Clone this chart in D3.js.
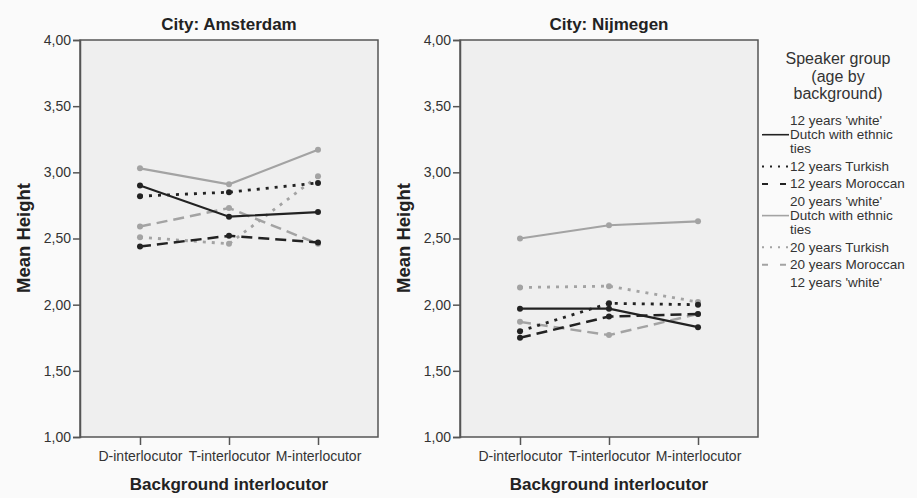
<!DOCTYPE html>
<html><head><meta charset="utf-8">
<script src="https://cdn.jsdelivr.net/npm/d3@7"></script>
<style>body{margin:0;background:#fafafa;}svg{display:block;font-family:"Liberation Sans",Arial,sans-serif;}</style>
</head><body><svg id="c" width="917" height="498"></svg>
<script>
const categories = ["D-interlocutor","T-interlocutor","M-interlocutor"];
const yTicks = [1.0,1.5,2.0,2.5,3.0,3.5,4.0];
const seriesNames = ["12 years 'white' Dutch with ethnic ties","12 years Turkish","12 years Moroccan","20 years 'white' Dutch with ethnic ties","20 years  Turkish","20 years Moroccan"];
const amsterdam12White = [2.90,2.665,2.70];
const amsterdam12Turkish = [2.82,2.85,2.92];
const amsterdam12Moroccan = [2.44,2.52,2.47];
const amsterdam20White = [3.03,2.91,3.17];
const amsterdam20Turkish = [2.51,2.46,2.97];
const amsterdam20Moroccan = [2.59,2.73,2.46];
const nijmegen12White = [1.97,1.97,1.83];
const nijmegen12Turkish = [1.80,2.01,2.00];
const nijmegen12Moroccan = [1.75,1.91,1.93];
const nijmegen20White = [2.50,2.60,2.63];
const nijmegen20Turkish = [2.13,2.14,2.02];
const nijmegen20Moroccan = [1.87,1.77,1.93];
const legendLines = [["12 years 'white'","Dutch with ethnic","ties"],["12 years Turkish"],["12 years Moroccan"],["20 years 'white'","Dutch with ethnic","ties"],["20 years  Turkish"],["20 years Moroccan"],["12 years 'white'"]];

const styles = [
  {color:"#222",dash:null,w:2.2},
  {color:"#222",dash:"3,6",w:2.8},
  {color:"#222",dash:"11,6",w:2.5},
  {color:"#a3a3a3",dash:null,w:2.2},
  {color:"#a3a3a3",dash:"3,6",w:2.8},
  {color:"#a3a3a3",dash:"11,6",w:2.5}
];
const panels = [
  {title:"City: Amsterdam", x0:80, x1:378, data:[amsterdam12White,amsterdam12Turkish,amsterdam12Moroccan,amsterdam20White,amsterdam20Turkish,amsterdam20Moroccan]},
  {title:"City: Nijmegen", x0:460, x1:758, data:[nijmegen12White,nijmegen12Turkish,nijmegen12Moroccan,nijmegen20White,nijmegen20Turkish,nijmegen20Moroccan]}
];
const svg = d3.select("#c");
const y = d3.scaleLinear().domain([1,4]).range([437,40]);
const drawOrder = [3,5,4,0,2,1];
panels.forEach(p=>{
  const x = d3.scalePoint().domain(categories).range([p.x0,p.x1]).padding(0.674);
  const g = svg.append("g");
  g.append("rect").attr("x",p.x0).attr("y",40).attr("width",p.x1-p.x0).attr("height",397).attr("fill","#efefef").attr("stroke","#555").attr("stroke-width",1.5);
  const ya = g.append("g").attr("transform",`translate(${p.x0},0)`).call(d3.axisLeft(y).tickValues(yTicks).tickSize(7).tickPadding(2).tickFormat(d=>d3.format(".2f")(d).replace(".",",")));
  ya.select(".domain").attr("stroke","#555").attr("stroke-width",1.5);
  ya.selectAll(".tick line").attr("stroke","#555").attr("stroke-width",1.5);
  ya.selectAll("text").attr("font-size",14).attr("fill","#333");
  const xa = g.append("g").attr("transform",`translate(0,437)`).call(d3.axisBottom(x).tickSize(8).tickPadding(6));
  xa.select(".domain").remove();
  xa.selectAll(".tick line").attr("stroke","#555").attr("stroke-width",1.5);
  xa.selectAll("text").attr("font-size",14).attr("fill","#333");
  g.append("text").attr("x",(p.x0+p.x1)/2).attr("y",30).attr("text-anchor","middle").attr("font-weight","bold").attr("font-size",17).attr("fill","#222").text(p.title);
  g.append("text").attr("x",(p.x0+p.x1)/2).attr("y",490).attr("text-anchor","middle").attr("font-weight","bold").attr("font-size",17).attr("fill","#222").text("Background interlocutor");
  g.append("text").attr("transform",`translate(${p.x0-50},238) rotate(-90)`).attr("text-anchor","middle").attr("font-weight","bold").attr("font-size",18.5).attr("fill","#222").text("Mean Height");
  const line = d3.line().x((d,i)=>x(categories[i])).y(d=>y(d));
  drawOrder.forEach(si=>{
    const s = styles[si], vals = p.data[si];
    g.append("path").attr("d",line(vals)).attr("fill","none").attr("stroke",s.color).attr("stroke-width",s.w).attr("stroke-dasharray",s.dash);
    g.selectAll(null).data(vals).enter().append("circle").attr("cx",(d,i)=>x(categories[i])).attr("cy",d=>y(d)).attr("r",3).attr("fill",s.color);
  });
});
// legend
const lg = svg.append("g").attr("font-size",13.5).attr("fill","#333");
["Speaker group","(age by","background)"].forEach((t,i)=>{
  lg.append("text").attr("x",838).attr("y",64+i*17.5).attr("text-anchor","middle").attr("font-size",16).attr("fill","#333").text(t);
});
let yy = 125;
const lh = 14.2;
legendLines.forEach((lines,i)=>{
  lines.forEach((t,j)=>{
    lg.append("text").attr("x",790).attr("y",yy+j*lh).text(t);
  });
  if(i<styles.length){
    const s = styles[i];
    const mid = yy + (lines.length-1)*lh/2 - 4.5;
    lg.append("line").attr("x1",762).attr("x2",789).attr("y1",mid).attr("y2",mid).attr("stroke",s.color).attr("stroke-width",s.dash?2:1.6).attr("stroke-dasharray",s.dash? (s.dash==="3,6"?"2,6":"6,12"):null);
  }
  yy += lines.length*lh + 3.3;
});
</script></body></html>
